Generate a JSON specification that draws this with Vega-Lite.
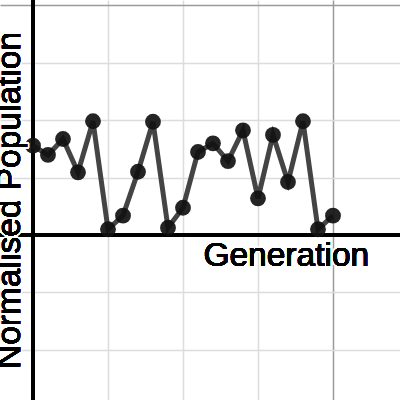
{
  "$schema": "https://vega.github.io/schema/vega-lite/v6.json",
  "width": 400,
  "height": 400,
  "autosize": {"type": "none"},
  "padding": 0,
  "background": "white",
  "config": {"view": {"stroke": null}},
  "data": {"values": [
    {"gen": 0, "pop": 0.777},
    {"gen": 1, "pop": 0.696},
    {"gen": 2, "pop": 0.835},
    {"gen": 3, "pop": 0.545},
    {"gen": 4, "pop": 0.989},
    {"gen": 5, "pop": 0.05},
    {"gen": 6, "pop": 0.168},
    {"gen": 7, "pop": 0.55},
    {"gen": 8, "pop": 0.985},
    {"gen": 9, "pop": 0.063},
    {"gen": 10, "pop": 0.237},
    {"gen": 11, "pop": 0.722},
    {"gen": 12, "pop": 0.797},
    {"gen": 13, "pop": 0.643},
    {"gen": 14, "pop": 0.91},
    {"gen": 15, "pop": 0.319},
    {"gen": 16, "pop": 0.87},
    {"gen": 17, "pop": 0.461},
    {"gen": 18, "pop": 0.989},
    {"gen": 19, "pop": 0.05},
    {"gen": 20, "pop": 0.168}
  ]},
  "encoding": {
    "x": {"field": "gen", "type": "quantitative",
      "scale": {"domain": [-2.2, 24.467], "nice": false, "zero": false},
      "axis": {"grid": true, "values": [5, 10, 15, 20], "domain": false, "ticks": false, "labels": false, "title": null,
        "gridWidth": 1.5,
        "gridColor": {"condition": {"test": "datum.value === 20", "value": "#9a9a9a"}, "value": "#dcdcdc"}}},
    "y": {"field": "pop", "type": "quantitative",
      "scale": {"domain": [-1.4348, 2.0435], "nice": false, "zero": false},
      "axis": {"grid": true, "values": [-1, -0.5, 0.5, 1, 1.5, 2], "domain": false, "ticks": false, "labels": false, "title": null,
        "gridWidth": 1.5,
        "gridColor": {"condition": {"test": "datum.value === 2", "value": "#9a9a9a"}, "value": "#dcdcdc"}}}
  },
  "layer": [
    {"mark": {"type": "rule", "color": "#000", "strokeWidth": 2.7}, "encoding": {"x": {"datum": 0}, "y": null}},
    {"mark": {"type": "rule", "color": "#000", "strokeWidth": 2.7}, "encoding": {"y": {"datum": 0}, "x": null}},
    {"mark": {"type": "line", "color": "#444", "strokeWidth": 5}},
    {"mark": {"type": "circle", "color": "#111", "opacity": 0.92, "size": 250}},
    {"mark": {"type": "text", "font": "Liberation Sans", "fontSize": 33.5, "align": "left", "baseline": "alphabetic", "fill": "white", "stroke": "white", "strokeWidth": 3.5, "strokeJoin": "round"},
     "encoding": {"x": {"datum": 11.36}, "y": {"datum": -0.267}, "text": {"value": "Generation"}}},
    {"mark": {"type": "text", "font": "Liberation Sans", "fontSize": 33.5, "align": "left", "baseline": "alphabetic", "color": "#000"},
     "encoding": {"x": {"datum": 11.36}, "y": {"datum": -0.267}, "text": {"value": "Generation"}}},
    {"mark": {"type": "text", "font": "Liberation Sans", "fontSize": 33.5, "angle": 270, "align": "center", "baseline": "alphabetic", "fill": "white", "stroke": "white", "strokeWidth": 3.5, "strokeJoin": "round"},
     "encoding": {"x": {"datum": -0.867}, "y": {"datum": 0.3}, "text": {"value": "Normalised Population"}}},
    {"mark": {"type": "text", "font": "Liberation Sans", "fontSize": 33.5, "angle": 270, "align": "center", "baseline": "alphabetic", "color": "#000"},
     "encoding": {"x": {"datum": -0.867}, "y": {"datum": 0.3}, "text": {"value": "Normalised Population"}}}
  ]
}
